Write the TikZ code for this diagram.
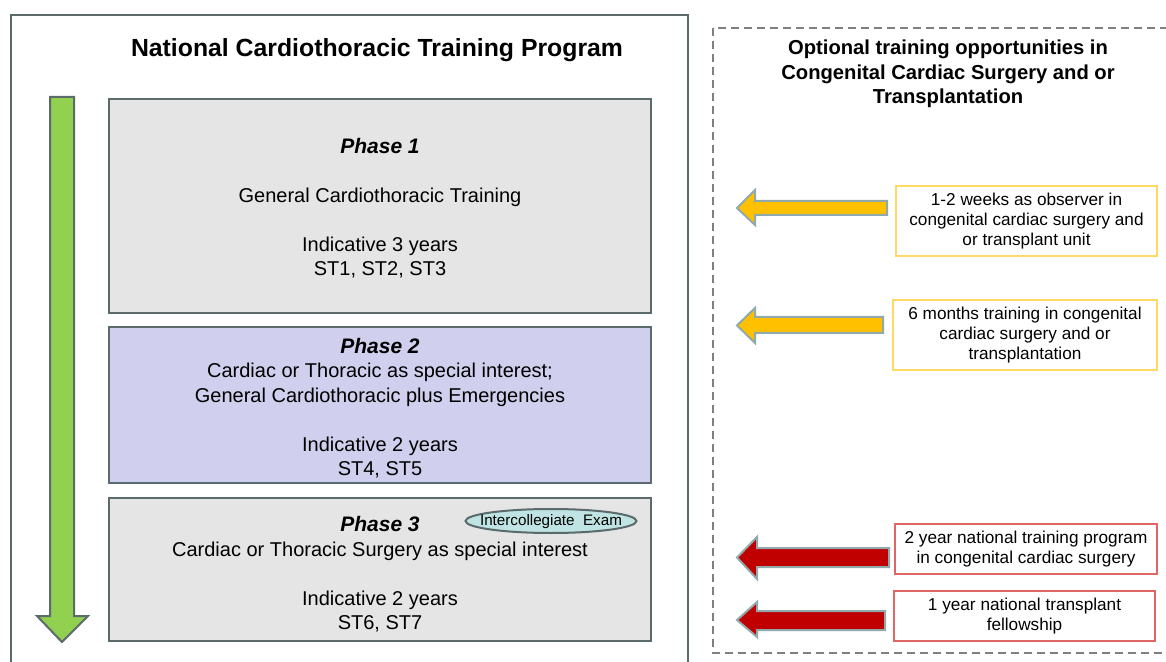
\documentclass[tikz,border=0pt]{standalone}
\usepackage{fontspec}
\setmainfont{Liberation Sans}
\usepackage{tikz}

\definecolor{edgegray}{HTML}{5B6A6A}
\definecolor{boxgray}{HTML}{E5E5E5}
\definecolor{lavender}{HTML}{D0D0EE}
\definecolor{greenarrow}{HTML}{92D050}
\definecolor{examteal}{HTML}{C0E4E4}
\definecolor{goldline}{HTML}{FFD966}
\definecolor{goldfill}{HTML}{FFC000}
\definecolor{redline}{HTML}{E06666}
\definecolor{redfill}{HTML}{C00000}
\definecolor{arrowline}{HTML}{8FA9AD}

\tikzset{
  phasebox/.style={draw=edgegray, line width=1pt, minimum width=271pt},
  phasetext/.style={align=center, font=\fontsize{10}{12.25}\selectfont},
  optbox/.style={draw, line width=0.6pt, fill=white, align=center, inner sep=0pt,
    font=\fontsize{8.6}{10.2}\selectfont},
  blockarrow/.style={draw=arrowline, line width=1pt, line join=miter}
}
\newcommand{\phasehead}[1]{{\fontsize{10.5}{12.25}\selectfont\bfseries\itshape #1}}

\begin{document}
\begin{tikzpicture}[x=0.5pt,y=-0.5pt]
\clip (0,0) rectangle (1166,662);
\fill[white] (0,0) rectangle (1166,662);

% left frame
\draw[edgegray, line width=1pt] (11,15) rectangle (688,680);
\node[font=\fontsize{12.4}{15}\selectfont\bfseries] (title) at (377,50) {National Cardiothoracic Training Program};

% green arrow down the side
\draw[edgegray, line width=1pt, fill=greenarrow, line join=miter]
  (50,97) -- (74,97) -- (74,616) -- (88,616) -- (62,642) -- (37,616) -- (50,616) -- cycle;

% the three phases
\node[phasebox, fill=boxgray, minimum height=107pt] (ph1) at (380,206) {};
\node[phasetext, yshift=-1pt] (ph1txt) at (ph1.center)
  {\phasehead{Phase 1}\\[12.25pt]
   General Cardiothoracic Training\\[12.25pt]
   Indicative 3 years\\ST1, ST2, ST3};
\node[phasebox, fill=lavender, minimum height=78pt] (ph2) at (380,405) {};
\node[phasetext, yshift=-1.6pt] (ph2txt) at (ph2.center)
  {\phasehead{Phase 2}\\
   Cardiac or Thoracic as special interest;\\
   General Cardiothoracic plus Emergencies\\[12.25pt]
   Indicative 2 years\\ST4, ST5};
\node[phasebox, fill=boxgray, minimum height=71.5pt] (ph3) at (380,569.5) {};
\node[phasetext, yshift=-2.4pt] (ph3txt) at (ph3.center)
  {\phasehead{Phase 3}\\
   Cardiac or Thoracic Surgery as special interest\\[12.25pt]
   Indicative 2 years\\ST6, ST7};
\coordinate (examc) at (551,521);
\draw[edgegray, line width=1pt, fill=examteal] (examc) ellipse [x radius=85.5, y radius=12];
\node[font=\fontsize{7.6}{9}\selectfont, inner sep=0pt] (exam) at ([yshift=-0.3pt]examc) {Intercollegiate\ \ Exam};

% optional training
\draw[gray, line width=0.6pt, dash pattern=on 4pt off 2.5pt] (713,28) rectangle (1180,653);
\node[align=center, font=\fontsize{10.1}{12.25}\selectfont\bfseries] (opttitle) at (948,74)
  {Optional training opportunities in\\Congenital Cardiac Surgery and or\\Transplantation};

\node[optbox, draw=goldline, minimum width=130.5pt, minimum height=35pt] (obs) at (1026.5,221)
  {1-2 weeks as observer in\\congenital cardiac surgery and\\or transplant unit};
\node[optbox, draw=goldline, minimum width=132pt, minimum height=35pt] (six) at (1025,335)
  {6 months training in congenital\\cardiac surgery and or\\transplantation};
\node[optbox, draw=redline, minimum width=131pt, minimum height=25pt] (cong) at (1026,549)
  {2 year national training program\\in congenital cardiac surgery};
\node[optbox, draw=redline, minimum width=130.5pt, minimum height=25pt] (fell) at (1024.5,616)
  {1 year national transplant\\fellowship};

% block arrows pointing back to the program
\draw[blockarrow, fill=goldfill]
  (887,201) -- (755,201) -- (755,190) -- (737,208) -- (755,225) -- (755,215) -- (887,215) -- cycle;
\draw[blockarrow, fill=goldfill]
  (883,317) -- (755,317) -- (755,308) -- (737,325.5) -- (755,343) -- (755,333) -- (883,333) -- cycle;
\draw[blockarrow, fill=redfill]
  (889,548) -- (757,548) -- (757,537) -- (737,557.5) -- (757,579) -- (757,567) -- (889,567) -- cycle;
\draw[blockarrow, fill=redfill]
  (885,611) -- (757,611) -- (757,602) -- (737,620) -- (757,637) -- (757,630) -- (885,630) -- cycle;

\end{tikzpicture}
\end{document}
